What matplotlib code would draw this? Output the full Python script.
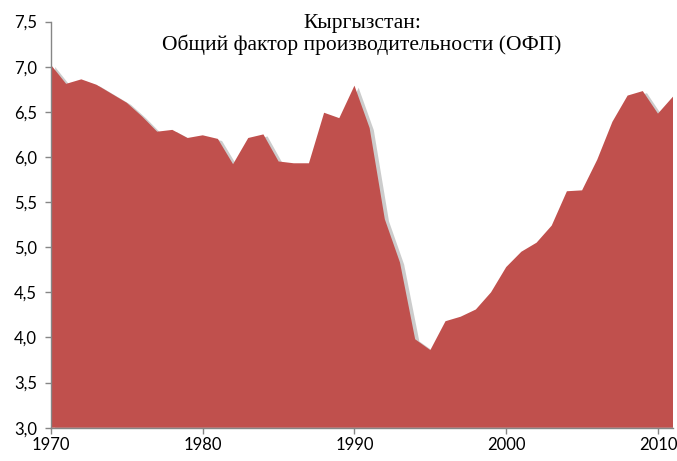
import matplotlib
matplotlib.use("Agg")
import matplotlib.pyplot as plt
import matplotlib.patheffects as pe

years = list(range(1970, 2012))
tfp = [7.02, 6.81, 6.86, 6.80, 6.70, 6.60, 6.45, 6.28, 6.30, 6.21,
       6.24, 6.20, 5.92, 6.21, 6.25, 5.95, 5.93, 5.93, 6.49, 6.43,
       6.79, 6.32, 5.31, 4.83, 3.98, 3.86, 4.18, 4.23, 4.31, 4.50,
       4.78, 4.95, 5.05, 5.24, 5.62, 5.63, 5.97, 6.39, 6.68, 6.73,
       6.48, 6.67]
x_ticks = [1970, 1980, 1990, 2000, 2010]
y_ticks = [3.0, 3.5, 4.0, 4.5, 5.0, 5.5, 6.0, 6.5, 7.0, 7.5]
title_lines = ["Кыргызстан:", "Общий фактор производительности (ОФП)"]

fig = plt.figure(figsize=(6.77, 4.61), dpi=100)
ax = fig.add_axes([0.0753, 0.0722, 0.919, 0.881])

poly = ax.fill_between(years, 3.0, tfp, color="#C0504D", linewidth=0)
poly.set_path_effects([pe.SimplePatchShadow(offset=(3, -1.5), shadow_rgbFace="#9a9a9a", alpha=0.5),
                       pe.Normal()])

ax.set_xlim(1970, 2011)
ax.set_ylim(3.0, 7.5)
ax.set_xticks(x_ticks)
ax.set_yticks(y_ticks)
ax.set_yticklabels([f"{v:.1f}".replace(".", ",") for v in y_ticks])
ax.set_xticklabels([str(v) for v in x_ticks])

for s in ["top", "right"]:
    ax.spines[s].set_visible(False)
for s in ["left", "bottom"]:
    ax.spines[s].set_color("#868686")
    ax.spines[s].set_linewidth(1.0)
ax.tick_params(axis="both", colors="#868686", length=4, width=1.0, direction="out",
               labelcolor="black", labelsize=12)
for lab in ax.get_xticklabels() + ax.get_yticklabels():
    lab.set_fontfamily("Lato")
ax.tick_params(axis="y", pad=6)
ax.tick_params(axis="x", pad=3)

ax.text(0.5, 0.9845, title_lines[0], transform=ax.transAxes, ha="center", va="baseline",
        fontsize=15.5, family="Liberation Serif")
ax.text(0.5, 0.930, title_lines[1], transform=ax.transAxes, ha="center", va="baseline",
        fontsize=15.5, family="Liberation Serif")

fig.savefig("out.png", dpi=100)
